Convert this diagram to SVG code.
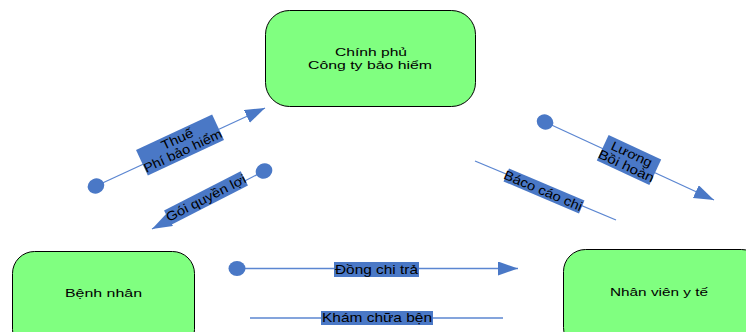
<svg xmlns="http://www.w3.org/2000/svg" width="746" height="332" viewBox="0 0 746 332">
  <style>
    .node { fill: #80FF80; stroke: #000; stroke-width: 1; }
    .ntext { font-family: "Liberation Sans", Arial, sans-serif; font-size: 11.5px; fill: #000; text-anchor: middle; }
    .link { stroke: #5B86D1; stroke-width: 1.3; fill: none; }
    .lbox { fill: #4A78C6; }
    .ltext { font-family: "Liberation Sans", Arial, sans-serif; font-size: 13px; fill: #000; text-anchor: middle; }
  </style>
  <defs>
    <marker id="arrow" markerUnits="userSpaceOnUse" markerWidth="22" markerHeight="16" refX="20" refY="7" orient="auto">
      <path d="M0,0 L20,7 L0,14 z" fill="#4A78C6"/>
    </marker>
    <marker id="dot" markerUnits="userSpaceOnUse" markerWidth="20" markerHeight="20" refX="10" refY="10" orient="auto">
      <ellipse cx="10" cy="10" rx="8.5" ry="7.5" fill="#4A78C6"/>
    </marker>
  </defs>

  <g id="node-government">
    <rect class="node" x="265.5" y="10.5" width="210" height="96" rx="24"/>
    <text class="ntext" x="371" y="56" textLength="72" lengthAdjust="spacingAndGlyphs">Chính phủ</text>
    <text class="ntext" x="370" y="69" textLength="124" lengthAdjust="spacingAndGlyphs">Công ty bảo hiểm</text>
  </g>
  <g id="node-patient">
    <rect class="node" x="12.5" y="251.5" width="182" height="100" rx="22"/>
    <text class="ntext" x="103.5" y="297" textLength="77" lengthAdjust="spacingAndGlyphs">Bệnh nhân</text>
  </g>
  <g id="node-staff">
    <rect class="node" x="563.5" y="249.5" width="200" height="100" rx="22"/>
    <text class="ntext" x="659" y="296" textLength="98" lengthAdjust="spacingAndGlyphs">Nhân viên y tế</text>
  </g>

  <g id="connectors">
    <line class="link" x1="96" y1="186" x2="265" y2="108" marker-start="url(#dot)" marker-end="url(#arrow)"/>
    <line class="link" x1="264" y1="171" x2="152" y2="229" marker-start="url(#dot)" marker-end="url(#arrow)"/>
    <line class="link" x1="545" y1="122" x2="714" y2="200" marker-start="url(#dot)" marker-end="url(#arrow)"/>
    <line class="link" x1="475" y1="161" x2="616" y2="220"/>
    <line class="link" x1="237" y1="268.5" x2="518" y2="268.5" marker-start="url(#dot)" marker-end="url(#arrow)"/>
    <line class="link" x1="250" y1="318" x2="503" y2="318"/>

    <g transform="translate(180,145) rotate(-25)">
      <rect class="lbox" x="-42" y="-14" width="84" height="28"/>
      <text class="ltext" x="0" y="-2" textLength="34" lengthAdjust="spacingAndGlyphs">Thuế</text>
      <text class="ltext" x="0" y="11" textLength="85" lengthAdjust="spacingAndGlyphs">Phí bảo hiểm</text>
    </g>
    <g transform="translate(206,198) rotate(-27)">
      <rect class="lbox" x="-43" y="-8" width="86" height="16"/>
      <text class="ltext" x="0" y="4.5" textLength="88" lengthAdjust="spacingAndGlyphs">Gói quyền lợi</text>
    </g>
    <g transform="translate(629,160) rotate(25)">
      <rect class="lbox" x="-29" y="-14" width="58" height="28"/>
      <text class="ltext" x="0" y="-2" textLength="44" lengthAdjust="spacingAndGlyphs">Lương</text>
      <text class="ltext" x="0" y="11" textLength="60" lengthAdjust="spacingAndGlyphs">Bồi hoàn</text>
    </g>
    <g transform="translate(544,191) rotate(23)">
      <rect class="lbox" x="-41" y="-7" width="82" height="14"/>
      <text class="ltext" x="-1" y="4.5" textLength="84" lengthAdjust="spacingAndGlyphs">Báco cáo chi</text>
    </g>
    <rect class="lbox" x="334" y="262" width="85" height="15"/>
    <text class="ltext" x="376.5" y="273.5" textLength="83" lengthAdjust="spacingAndGlyphs">Đồng chi trả</text>
    <rect class="lbox" x="321" y="311" width="112" height="14"/>
    <text class="ltext" x="377" y="322" textLength="110" lengthAdjust="spacingAndGlyphs">Khám chữa bện</text>
  </g>
</svg>
